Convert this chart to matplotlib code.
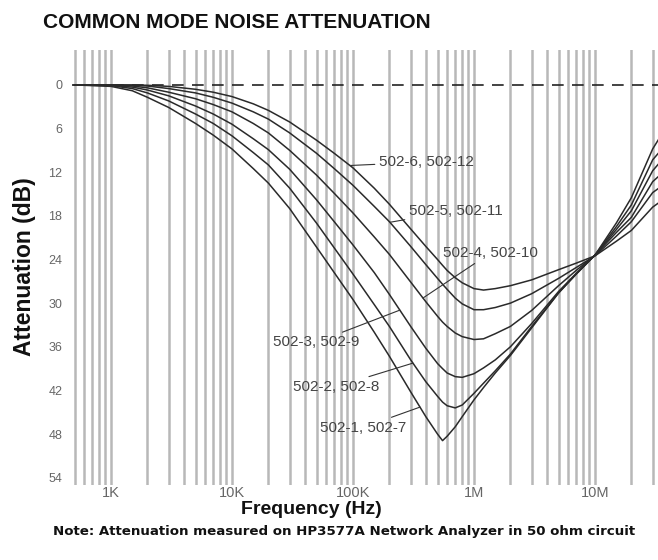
import numpy as np
import matplotlib
matplotlib.use("Agg")
import matplotlib.pyplot as plt
from matplotlib.ticker import LogLocator

plt.rcParams['font.family'] = ['Liberation Sans', 'DejaVu Sans']

# frequency points (Hz)
freqs = [500, 1e3, 1.5e3, 2e3, 3e3, 5e3, 7e3, 1e4, 1.5e4, 2e4, 3e4, 5e4, 7e4,
         1e5, 1.5e5, 2e5, 3e5, 4e5, 5e5, 5.5e5, 6e5, 7e5, 8e5, 1e6, 1.2e6,
         1.5e6, 2e6, 3e6, 5e6, 7e6, 1e7, 1.5e7, 2e7, 3e7, 3.5e7]

# attenuation (dB) for each filter pair
att_1 = [0, 0.2, 0.8, 1.7, 3.1, 5.3, 6.9, 8.8, 11.5, 13.5, 17.0, 22.3, 25.8,
         29.5, 34.0, 37.3, 42.2, 45.6, 48.0, 48.9, 48.3, 47.0, 45.6, 43.3, 41.6,
         39.6, 37.2, 33.4, 28.6, 26.0, 23.4, 19.0, 15.5, 8.8, 7.0]
att_2 = [0, 0.1, 0.5, 1.1, 2.2, 4.0, 5.3, 7.0, 9.3, 11.0, 14.2, 19.0, 22.4,
         26.0, 30.2, 33.2, 37.8, 40.8, 42.8, 43.6, 44.1, 44.4, 44.0, 42.4, 41.0,
         39.3, 37.0, 33.2, 28.6, 26.0, 23.4, 19.5, 16.5, 10.3, 9.0]
att_3 = [0, 0.05, 0.3, 0.7, 1.5, 2.9, 4.0, 5.4, 7.4, 8.9, 11.6, 15.8, 18.8,
         22.0, 25.8, 28.8, 33.2, 36.2, 38.3, 39.0, 39.6, 40.1, 40.2, 39.7, 38.9,
         37.8, 36.0, 32.8, 28.4, 25.9, 23.4, 19.9, 17.3, 11.8, 10.5]
att_4 = [0, 0, 0.15, 0.4, 1.0, 1.9, 2.7, 3.7, 5.3, 6.6, 9.0, 12.4, 14.9,
         17.6, 20.9, 23.3, 27.1, 29.8, 31.8, 32.6, 33.2, 34.1, 34.6, 35.0, 34.9,
         34.2, 33.2, 31.0, 27.6, 25.5, 23.4, 20.3, 18.2, 13.3, 12.3]
att_5 = [0, 0, 0.05, 0.15, 0.5, 1.1, 1.7, 2.5, 3.7, 4.7, 6.6, 9.4, 11.5,
         13.8, 16.7, 18.8, 22.2, 24.7, 26.6, 27.4, 28.1, 29.3, 30.1, 30.9, 30.9,
         30.6, 30.0, 28.7, 26.6, 25.1, 23.5, 20.8, 18.8, 14.8, 14.0]
att_6 = [0, 0, 0, 0.05, 0.2, 0.6, 1.0, 1.6, 2.6, 3.5, 5.1, 7.6, 9.4,
         11.4, 14.2, 16.4, 19.8, 22.2, 24.0, 24.8, 25.5, 26.5, 27.2, 28.0, 28.2,
         28.0, 27.6, 26.8, 25.4, 24.5, 23.5, 21.5, 20.0, 16.8, 16.0]

curve_labels = ['502-1, 502-7', '502-2, 502-8', '502-3, 502-9',
                '502-4, 502-10', '502-5, 502-11', '502-6, 502-12']
curves = [att_1, att_2, att_3, att_4, att_5, att_6]

# where each leader touches its curve, and where its text sits
anchor_freq = [3.58e5, 3.13e5, 2.44e5, 3.79e5, 2.02e5, 9.44e4]
text_freq = [2.74e5, 1.64e5, 1.12e5, 5.55e5, 2.9e5, 1.64e5]
text_db = [47.1, 41.5, 35.4, 23.1, 17.3, 10.6]
text_side = ['right', 'right', 'right', 'left', 'left', 'left']

yticks = [0, 6, 12, 18, 24, 30, 36, 42, 48, 54]
xticks = [1e3, 1e4, 1e5, 1e6, 1e7]
xtick_labels = ['1K', '10K', '100K', '1M', '10M']

fig = plt.figure(figsize=(6.58, 5.6), dpi=100)
ax = fig.add_axes([0.1094, 0.1339, 0.8906, 0.7768])

ax.set_xscale('log')
ax.set_xlim(476, 3.32e7)
ax.set_ylim(55.0, -4.8)

# vertical log grid
ax.xaxis.set_major_locator(LogLocator(base=10, subs=np.arange(1, 10), numticks=30))
ax.xaxis.grid(True, which='major', color='#b8b8b8', lw=1.8)
ax.set_axisbelow(True)

ax.axhline(0, color='#222222', lw=1.2, dashes=(7, 5))

for vals in curves:
    ax.plot(freqs, vals, color='#2a2a2a', lw=1.1)

for lab, af, tf, td, side, vals in zip(curve_labels, anchor_freq, text_freq,
                                       text_db, text_side, curves):
    ay = np.interp(np.log10(af), np.log10(freqs), vals)
    ax.annotate(lab, xy=(af, ay), xytext=(tf, td), ha=side, va='center',
                fontsize=11, color='#444444',
                arrowprops=dict(arrowstyle='-', color='#333333', lw=0.8,
                                shrinkA=1, shrinkB=0))

for s in ax.spines.values():
    s.set_visible(False)

# x tick labels as text under the axes, the grid keeps every log line
ax.tick_params(axis='both', length=0)
ax.set_xticklabels([])
for xv, lab in zip(xticks, xtick_labels):
    ax.text(xv, -0.002, lab, transform=ax.get_xaxis_transform(), ha='center',
            va='top', fontsize=10.5, color='#666666')
ax.set_yticks(yticks)
ax.set_yticklabels([str(v) for v in yticks], fontsize=9, color='#666666')
ax.tick_params(axis='y', pad=7)

fig.text(43 / 658, 1 - 23 / 560, 'COMMON MODE NOISE ATTENUATION',
         ha='left', va='center', fontsize=15, fontweight='bold', color='#111111')
fig.text(311 / 658, 1 - 510 / 560, 'Frequency (Hz)', ha='center', va='center',
         fontsize=14, fontweight='bold', color='#111111')
fig.text(25 / 658, 1 - 267 / 560, 'Attenuation (dB)', ha='center', va='center',
         rotation=90, fontsize=16.5, fontweight='bold', color='#111111')
fig.text(53 / 658, 1 - 532 / 560,
         'Note: Attenuation measured on HP3577A Network Analyzer in 50 ohm circuit',
         ha='left', va='center', fontsize=9.6, fontweight='bold',
         family='DejaVu Sans', color='#111111')

fig.savefig('out.png', dpi=100)
